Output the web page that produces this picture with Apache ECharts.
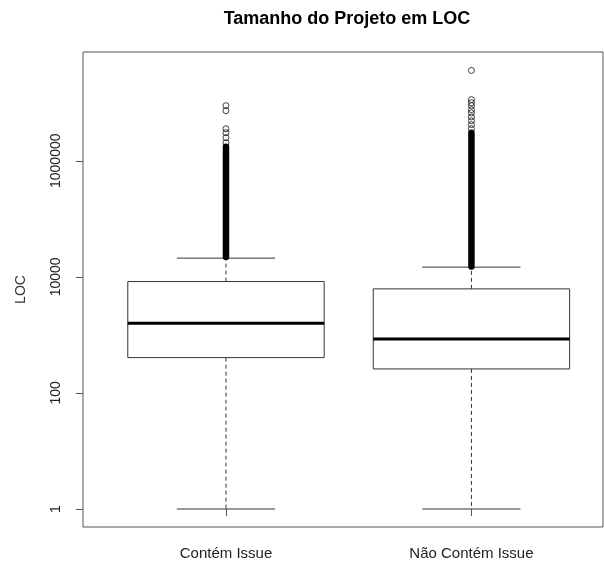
<!DOCTYPE html>
<html>
<head>
<meta charset="utf-8">
<script src="https://cdn.jsdelivr.net/npm/echarts@6/dist/echarts.min.js"></script>
<style>
  html, body { margin: 0; padding: 0; background: #fff; }
  #chart { width: 604px; height: 565px; }
</style>
</head>
<body>
<div id="chart"></div>
<script>
// Groups shown on the x axis
const categories = ['Contém Issue', 'Não Contém Issue'];

// Five-number summary per group, in LOC: [lower whisker, Q1, median, Q3, upper whisker]
const boxContem = [1, 406, 1590, 8300, 21000];
const boxNaoContem = [1, 259, 853, 6200, 14700];

// Span of the tightly packed outliers just above each upper whisker (LOC)
const denseContem = [22000, 1740000];
const denseNaoContem = [15000, 3040000];

// Isolated outliers above the packed run (LOC)
const outContem = [2040000, 2500000, 3040000, 3560000, 7300000, 8900000];
const outNaoContem = [3560000, 4200000, 4900000, 5700000, 6700000, 7600000, 8900000, 10000000, 11300000, 36000000];

// Labelled ticks of the logarithmic LOC axis
const yTickValues = [1, 100, 10000, 1000000];

const FONT = 'Liberation Sans, Arial, sans-serif';
const lg = Math.log10;

const boxes = [boxContem, boxNaoContem].map((b, i) => [i + 1].concat(b.map(lg)));
const denseRuns = [denseContem, denseNaoContem];
const outliers = [];
[outContem, outNaoContem].forEach((arr, i) => arr.forEach(v => outliers.push([i + 1, lg(v)])));

function renderBox(params, api) {
  const x = api.value(0);
  const lo = api.value(1), q1 = api.value(2), med = api.value(3), q3 = api.value(4), hi = api.value(5);
  const half = 0.4, capHalf = 0.2;
  const cx = api.coord([x, med])[0];
  const left = api.coord([x - half, med])[0];
  const right = api.coord([x + half, med])[0];
  const capL = api.coord([x - capHalf, med])[0];
  const capR = api.coord([x + capHalf, med])[0];
  const yLo = api.coord([x, lo])[1];
  const yQ1 = api.coord([x, q1])[1];
  const yMed = api.coord([x, med])[1];
  const yQ3 = api.coord([x, q3])[1];
  const yHi = api.coord([x, hi])[1];
  const thin = { stroke: '#333', lineWidth: 1, fill: null };
  const dashed = { stroke: '#333', lineWidth: 1, lineDash: [4, 3], fill: null };
  return {
    type: 'group',
    children: [
      { type: 'line', shape: { x1: cx, y1: yQ3, x2: cx, y2: yHi }, style: dashed },
      { type: 'line', shape: { x1: cx, y1: yQ1, x2: cx, y2: yLo }, style: dashed },
      { type: 'line', shape: { x1: capL, y1: yHi, x2: capR, y2: yHi }, style: thin },
      { type: 'line', shape: { x1: capL, y1: yLo, x2: capR, y2: yLo }, style: thin },
      { type: 'rect', shape: { x: left, y: yQ3, width: right - left, height: yQ1 - yQ3 },
        style: { stroke: '#333', lineWidth: 1, fill: '#fff' } },
      { type: 'line', shape: { x1: left, y1: yMed, x2: right, y2: yMed },
        style: { stroke: '#000', lineWidth: 3 } }
    ]
  };
}

const series = [
  {
    type: 'custom',
    renderItem: renderBox,
    data: boxes,
    z: 2
  }
];

denseRuns.forEach((run, i) => {
  series.push({
    type: 'line',
    data: run.map(v => [i + 1, lg(v)]),
    showSymbol: false,
    lineStyle: { color: '#000', width: 6.5, cap: 'round' },
    z: 3
  });
});

series.push({
  type: 'scatter',
  data: outliers,
  symbol: 'circle',
  symbolSize: 6,
  itemStyle: { color: 'rgba(0,0,0,0)', borderColor: '#111', borderWidth: 1 },
  z: 4
});

const chart = echarts.init(document.getElementById('chart'), null, { renderer: 'canvas' });
chart.setOption({
  animation: false,
  backgroundColor: '#fff',
  title: {
    text: 'Tamanho do Projeto em LOC',
    left: 342,
    textAlign: 'center',
    top: 5,
    textStyle: { fontFamily: FONT, fontSize: 18, fontWeight: 'bold', color: '#000' }
  },
  grid: {
    left: 83, right: 1, top: 52, bottom: 38,
    show: true, borderColor: '#555', borderWidth: 1, backgroundColor: 'transparent'
  },
  xAxis: {
    type: 'value',
    min: 0.4175,
    max: 2.536,
    axisLine: { show: false },
    splitLine: { show: false },
    axisTick: { show: true, customValues: [1, 2], length: 7, lineStyle: { color: '#555' } },
    axisLabel: {
      customValues: [1, 2],
      formatter: v => categories[Math.round(v) - 1],
      fontFamily: FONT, fontSize: 15, color: '#222', margin: 19
    }
  },
  yAxis: {
    type: 'value',
    min: -0.3103,
    max: 7.874,
    name: 'LOC',
    nameLocation: 'middle',
    nameRotate: 90,
    nameGap: 55,
    nameTextStyle: { fontFamily: FONT, fontSize: 14, color: '#333' },
    axisLine: { show: false },
    splitLine: { show: false },
    axisTick: { show: true, customValues: yTickValues.map(lg), length: 7, lineStyle: { color: '#555' } },
    axisLabel: {
      customValues: yTickValues.map(lg),
      formatter: v => String(Math.round(Math.pow(10, v))),
      rotate: 90,
      fontFamily: FONT, fontSize: 14, color: '#222', margin: 20
    }
  },
  series: series
});
</script>
</body>
</html>
